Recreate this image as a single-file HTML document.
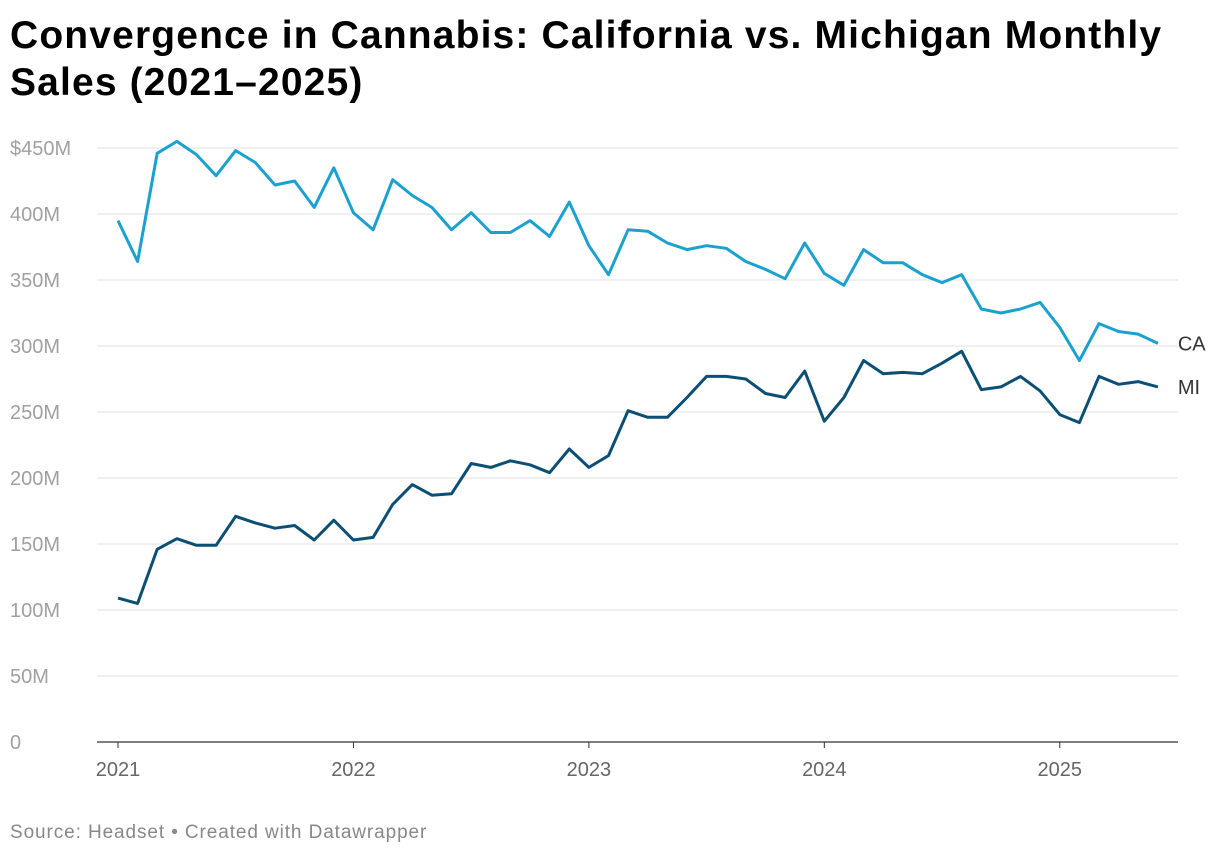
<!DOCTYPE html>
<html><head><meta charset="utf-8">
<style>
body{margin:0;background:#fff;font-family:"Liberation Sans",sans-serif;}
#wrap{position:relative;width:1220px;height:858px;overflow:hidden;}
h1{position:absolute;left:10px;top:12px;margin:0;font-size:39px;line-height:47px;font-weight:bold;color:#000;width:1210px;letter-spacing:1.15px;white-space:nowrap}
#src{position:absolute;left:10px;top:822px;font-size:19px;color:#888;letter-spacing:0.9px}
</style></head><body>
<div id="wrap">
<h1>Convergence in Cannabis: California vs. Michigan Monthly<br>Sales (2021–2025)</h1>
<svg id="chart" width="1220" height="858" style="position:absolute;left:0;top:0"></svg>
<div id="src">Source: Headset • Created with Datawrapper</div>
</div>
<script>
const yTicks=[0,50,100,150,200,250,300,350,400,450];
const yTickLabels=["0","50M","100M","150M","200M","250M","300M","350M","400M","$450M"];
const xYears=[2021,2022,2023,2024,2025];
const caSales=[395,364,446,455,445,429,448,439,422,425,405,435,401,388,426,414,405,388,401,386,386,395,383,409,376,354,388,387,378,373,376,374,364,358,351,378,355,346,373,363,363,354,348,354,328,325,328,333,314,289,317,311,309,302];
const miSales=[109,105,146,154,149,149,171,166,162,164,153,168,153,155,180,195,187,188,211,208,213,210,204,222,208,217,251,246,246,261,277,277,275,264,261,281,243,261,289,279,280,279,287,296,267,269,277,266,248,242,277,271,273,269];
const NS="http://www.w3.org/2000/svg";
const svg=document.getElementById('chart');
const x0=118,monthW=19.62,y0=742,yScale=594/450;
const xPos=i=>x0+i*monthW;
const yPos=v=>y0-v*yScale;
function mk(t,a){const e=document.createElementNS(NS,t);for(const k in a)e.setAttribute(k,a[k]);svg.appendChild(e);return e;}
yTicks.forEach((v,i)=>{
  const l=mk('line',{x1:97,x2:1178,y1:yPos(v),y2:yPos(v),stroke:v===0?'#333':'#e0e0e0','stroke-width':v===0?1.3:1});
  
  
  const t=mk('text',{x:10,y:yPos(v)+7,'font-size':20,fill:'#a0a0a0','font-family':'Liberation Sans, sans-serif'});
  t.textContent=yTickLabels[i];
  
  
});
xYears.forEach((yr,i)=>{
  const x=xPos(i*12);
  const tk=mk('line',{x1:x,x2:x,y1:742,y2:748,stroke:'#333'});
  
  
  const t=mk('text',{x:x,y:776,'font-size':20,fill:'#666','text-anchor':'middle','font-family':'Liberation Sans, sans-serif'});
  t.textContent=yr;
  
  
});
function series(arr,color,name,label){
  const d=arr.map((v,i)=>(i?'L':'M')+xPos(i).toFixed(1)+','+yPos(v).toFixed(1)).join(' ');
  const p=mk('path',{d:d,fill:'none',stroke:color,'stroke-width':3,'stroke-linejoin':'round'});
  
  
  const n=arr.length-1;
  const t=mk('text',{x:xPos(n)+20,y:yPos(arr[n])+7,'font-size':20,fill:'#333','font-family':'Liberation Sans, sans-serif'});
  t.textContent=label;
  
  
}
series(caSales,'#1ba1d0','ca-line','CA');
series(miSales,'#0b4f75','mi-line','MI');
</script>
</body></html>
